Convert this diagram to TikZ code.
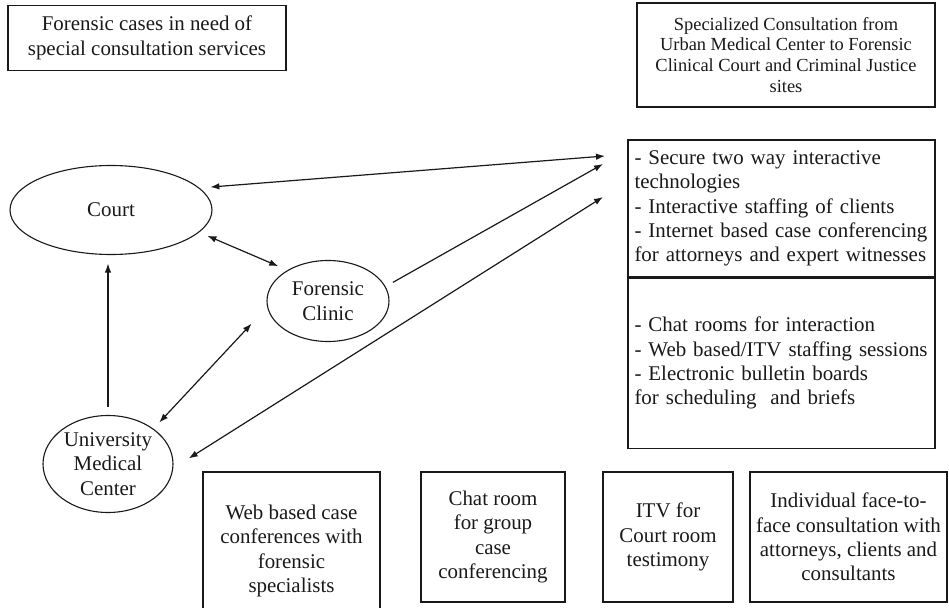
\documentclass[tikz,border=0pt]{standalone}
\usepackage{fontspec}
\setmainfont{Liberation Serif}
\usetikzlibrary{arrows.meta,shapes.geometric}
\definecolor{ink}{RGB}{25,25,25}
\newcommand{\txtfont}{\fontsize{21}{24.5}\selectfont}
\newcommand{\comma}{,}
\tikzset{
  >={Latex[length=9bp,width=6.5bp]},
  link/.style={line width=1.2bp,draw=ink},
  box/.style={draw=ink,line width=1.1bp,inner sep=0pt,align=center,font=\txtfont,text=ink},
  list/.style={draw=ink,line width=1.1bp,inner xsep=6.5bp,inner ysep=0pt,text width=294bp,
    align=left,font=\txtfont,text=ink},
  place/.style={ellipse,draw=ink,line width=1.1bp,inner sep=0pt,outer sep=9bp,
    align=center,font=\txtfont,text=ink},
}

\begin{document}
\begin{tikzpicture}[x=1bp,y=-1bp]
  \useasboundingbox (0,0) rectangle (949,608);
  % headings
  \node[box,minimum width=278bp,minimum height=65bp] (cases) at (147,38)
    {Forensic cases in need of\\special consultation services};
  \node[box,minimum width=298bp,minimum height=104bp,font=\fontsize{18.5}{21}\selectfont] (spec) at (786,55)
    {Specialized Consultation from\\Urban Medical Center to Forensic\\Clinical Court and Criminal Justice\\sites};
  % sites
  \node[place,minimum width=202bp,minimum height=89bp] (court) at (111,210) {Court};
  \node[place,minimum width=122bp,minimum height=81bp] (clinic) at (328,301) {Forensic\\Clinic};
  \node[place,minimum width=130bp,minimum height=97bp] (umc) at (108,464) {University\\Medical\\Center};
  % services
  \node[list,minimum height=137bp] (tech) at (781.5,208.5)
    {- Secure two way interactive\\technologies\\- Interactive staffing of clients\\- Internet based case conferencing\\for attorneys and expert witnesses};
  \node[list,minimum height=170bp,anchor=north] (chat) at (tech.south)
    {- Chat rooms for interaction\\- Web based/ITV staffing sessions\\- Electronic bulletin boards\\for scheduling\ \ and briefs};
  \foreach \x/\y/\w/\h/\n/\t in {
      291.5/551/177/158/web/Web based case\\conferences with\\forensic\\specialists,
      493/537/144/130/room/Chat room\\for group\\case\\conferencing,
      668/537/130/130/itv/ITV for\\Court room\\testimony,
      848.5/537/197/130/face/Individual face-to-\\face consultation with\\attorneys\comma{} clients and\\consultants}
  {
    \node[box,minimum width=\w bp,minimum height=\h bp] (\n) at (\x,\y) {\t};
  }
  % links
  \coordinate (in1) at (605,156);
  \coordinate (in2) at (603,164);
  \coordinate (in3) at (603,197);
  \draw[link,<->] (court.13) -- (in1);
  \draw[link,<->] (court.-15) -- (clinic.145);
  \draw[link,->] (clinic.16) -- (in2);
  \draw[link,<->,shorten >=13bp] (umc.39) -- (clinic.191);
  \draw[link,->] (umc.north) -- (umc.north |- court.south);
  \draw[link,<->,shorten >=8bp] (in3) -- (umc.1);
\end{tikzpicture}
\end{document}
